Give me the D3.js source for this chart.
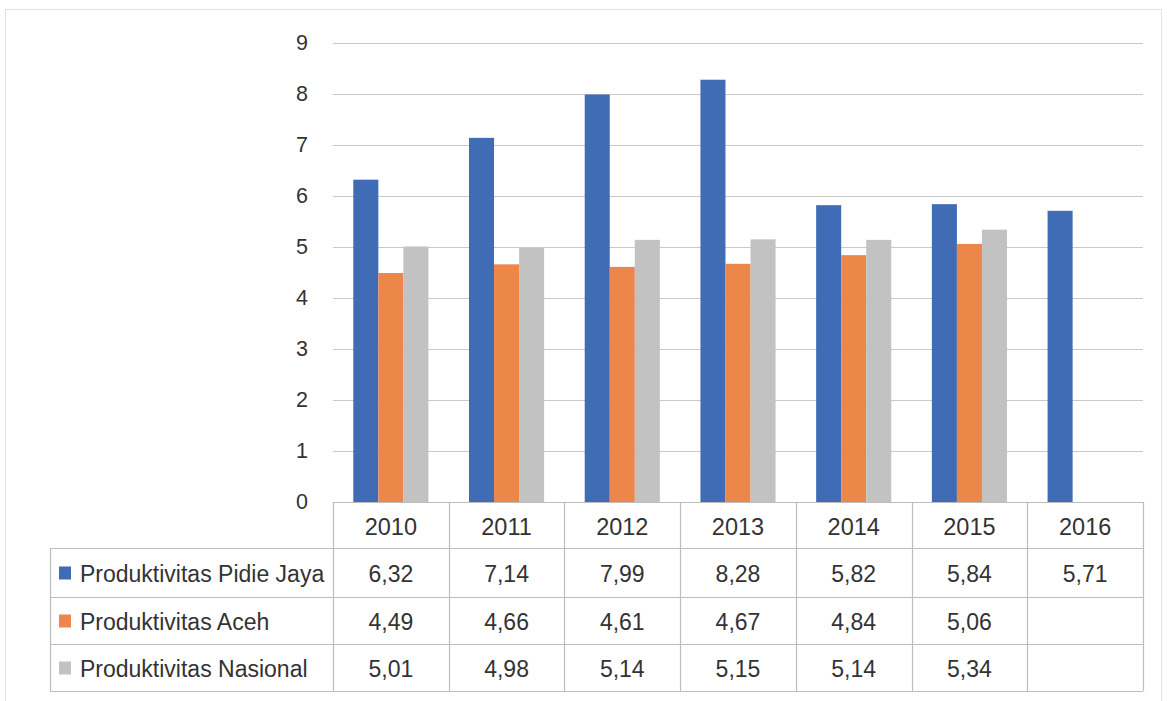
<!DOCTYPE html>
<html>
<head>
<meta charset="utf-8">
<script src="https://cdn.jsdelivr.net/npm/d3@7"></script>
<style>
  html, body { margin: 0; padding: 0; background: #fff; }
  svg { display: block; }
  text { font-family: "Liberation Sans", Arial, sans-serif; fill: #333; }
</style>
</head>
<body>
<svg id="chart" width="1167" height="701"></svg>
<script>
// Productivity by year (ton/ha), decimal comma in the table
const years = ["2010", "2011", "2012", "2013", "2014", "2015", "2016"];
const seriesNames = ["Produktivitas Pidie Jaya", "Produktivitas Aceh", "Produktivitas Nasional"];
const pidieJaya = [6.32, 7.14, 7.99, 8.28, 5.82, 5.84, 5.71];
const aceh      = [4.49, 4.66, 4.61, 4.67, 4.84, 5.06, null];
const nasional  = [5.01, 4.98, 5.14, 5.15, 5.14, 5.34, null];
const yTicks = [0, 1, 2, 3, 4, 5, 6, 7, 8, 9];
const colors = ["#3f6cb4", "#ec8649", "#c2c2c2"];

const seriesValues = [pidieJaya, aceh, nasional];
const svg = d3.select("#chart");

// outer frame
svg.append("rect")
  .attr("x", 5.5).attr("y", 9.5).attr("width", 1156).attr("height", 700)
  .attr("fill", "none").attr("stroke", "#e2e2e2");

const plot = { left: 333, right: 1143, top: 43, bottom: 502 };
const table = { left: 50, rows: [502, 548, 597, 644, 691] };

const x = d3.scaleBand().domain(years).range([plot.left, plot.right]).padding(0);
const y = d3.scaleLinear().domain([0, 9]).range([plot.bottom, plot.top]);
const x1 = d3.scaleBand().domain(seriesNames).range([0, x.bandwidth()])
  .paddingInner(0).paddingOuter(0.81);

// horizontal gridlines
svg.append("g").selectAll("line").data(yTicks.slice(1)).join("line")
  .attr("x1", plot.left).attr("x2", plot.right)
  .attr("y1", d => Math.round(y(d)) + 0.5).attr("y2", d => Math.round(y(d)) + 0.5)
  .attr("stroke", "#c9c9c9").attr("stroke-width", 1.2);

// y-axis tick labels
svg.append("g").selectAll("text").data(yTicks).join("text")
  .attr("x", 308).attr("y", d => y(d))
  .attr("text-anchor", "end").attr("dominant-baseline", "central")
  .attr("font-size", 21.5)
  .text(d => d);

// bars
const bars = [];
seriesNames.forEach((name, si) => {
  years.forEach((yr, i) => {
    const v = seriesValues[si][i];
    if (v != null) bars.push({ name, yr, v, si });
  });
});
svg.append("g").selectAll("rect").data(bars).join("rect")
  .attr("x", d => x(d.yr) + x1(d.name))
  .attr("width", x1.bandwidth())
  .attr("y", d => y(d.v))
  .attr("height", d => y(0) - y(d.v))
  .attr("fill", d => colors[d.si]);

// data table grid
const grid = svg.append("g").attr("stroke", "#bdbdbd").attr("stroke-width", 1.2);
// axis / header top line
grid.append("line").attr("x1", plot.left).attr("x2", plot.right)
  .attr("y1", table.rows[0] + 0.5).attr("y2", table.rows[0] + 0.5);
// row lines
grid.selectAll("line.row").data(table.rows.slice(1)).join("line").attr("class", "row")
  .attr("x1", table.left).attr("x2", plot.right)
  .attr("y1", d => d + 0.5).attr("y2", d => d + 0.5);
// column separators
const colEdges = years.map(yr => x(yr)).concat([x(years[years.length - 1]) + x.bandwidth()]);
grid.selectAll("line.col").data(colEdges).join("line").attr("class", "col")
  .attr("x1", d => Math.round(d) + 0.5).attr("x2", d => Math.round(d) + 0.5)
  .attr("y1", table.rows[0]).attr("y2", table.rows[4]);
grid.append("line")
  .attr("x1", table.left + 0.5).attr("x2", table.left + 0.5)
  .attr("y1", table.rows[1]).attr("y2", table.rows[4]);

// header row: years
svg.append("g").selectAll("text").data(years).join("text")
  .attr("x", d => x(d) + x.bandwidth() / 2)
  .attr("y", (table.rows[0] + table.rows[1]) / 2 + 2)
  .attr("text-anchor", "middle").attr("dominant-baseline", "central")
  .attr("font-size", 23.5)
  .text(d => d);

// value rows
const fmt = v => v.toFixed(2).replace(".", ",");
seriesNames.forEach((name, si) => {
  const rowMid = (table.rows[si + 1] + table.rows[si + 2]) / 2;
  const g = svg.append("g");
  g.append("rect")
    .attr("x", 59).attr("y", rowMid - 6).attr("width", 12).attr("height", 13)
    .attr("fill", colors[si]);
  g.append("text")
    .attr("x", 80).attr("y", rowMid + 1)
    .attr("dominant-baseline", "central")
    .attr("font-size", 23)
    .text(name);
  g.selectAll("text.val").data(years.map((yr, i) => ({ yr, v: seriesValues[si][i] })).filter(d => d.v != null))
    .join("text").attr("class", "val")
    .attr("x", d => x(d.yr) + x.bandwidth() / 2)
    .attr("y", rowMid + 1)
    .attr("text-anchor", "middle").attr("dominant-baseline", "central")
    .attr("font-size", 23)
    .text(d => fmt(d.v));
});
</script>
</body>
</html>
